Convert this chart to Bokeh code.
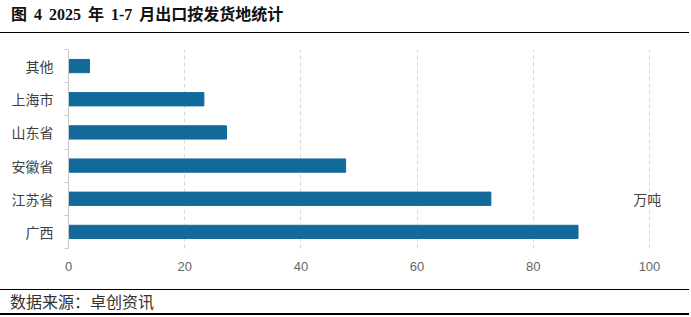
from bokeh.plotting import figure
from bokeh.models import ColumnDataSource, FixedTicker, Label, Div
from bokeh.layouts import column
from bokeh.embed import file_html
from bokeh.resources import INLINE

categories = ["广西", "江苏省", "安徽省", "山东省", "上海市", "其他"]
values = [87.7, 72.7, 47.7, 27.2, 23.3, 3.6]
x_ticks = [0, 20, 40, 60, 80, 100]
title_text = "图 4 2025 年 1-7 月出口按发货地统计"
unit_text = "万吨"
source_text = "数据来源：卓创资讯"

pos = list(range(len(categories)))
src = ColumnDataSource(dict(y=pos, v=values, cat=categories))

p = figure(width=691, height=256, x_range=(0, 104.65), y_range=(-0.5, len(categories) - 0.5),
           output_backend="svg", toolbar_location=None,
           min_border_left=68, min_border_right=15, min_border_top=16, min_border_bottom=41)
p.outline_line_color = None
p.background_fill_color = "white"
p.border_fill_color = "white"

p.hbar(y="y", right="v", left=0, height=0.4, source=src, color="#126a9a")

# x axis
p.xaxis.ticker = FixedTicker(ticks=x_ticks)
p.xaxis.axis_line_color = None
p.xaxis.major_tick_line_color = None
p.xaxis.minor_tick_line_color = None
p.xaxis.major_label_standoff = 7
p.xaxis.major_label_text_font = "Liberation Sans"
p.xaxis.major_label_text_font_size = "13px"
p.xaxis.major_label_text_color = "#666666"

# y axis
p.yaxis.ticker = FixedTicker(ticks=pos, minor_ticks=[i - 0.5 for i in range(len(categories) + 1)])
p.yaxis.major_label_overrides = {i: c for i, c in zip(pos, categories)}
p.yaxis.major_tick_line_color = None
p.yaxis.minor_tick_in = 0
p.yaxis.minor_tick_out = 4
p.yaxis.minor_tick_line_color = "#c8c8c8"
p.yaxis.axis_line_color = "#c8c8c8"
p.yaxis.major_label_standoff = 9
p.yaxis.major_label_text_font = "Noto Sans CJK SC"
p.yaxis.major_label_text_font_size = "14px"
p.yaxis.major_label_text_color = "#404040"

# grid
p.ygrid.grid_line_color = None
p.xgrid.ticker = FixedTicker(ticks=x_ticks)
p.xgrid.grid_line_color = "#d9d9d9"
p.xgrid.grid_line_dash = "4 3"

p.add_layout(Label(x=97.2, y=1, text=unit_text, text_baseline="middle",
                   text_font="Noto Sans CJK SC", text_font_size="14px", text_color="#404040"))

title_div = Div(
    text=('<div style="box-sizing:border-box;width:689px;height:33px;border-bottom:1px solid #000;'
          'padding-left:11px;line-height:29px;font-family:\'Liberation Serif\',\'Noto Sans CJK SC\';'
          'font-weight:bold;font-size:16px;word-spacing:3px;color:#111;white-space:nowrap;">'
          + title_text + '</div>'),
    width=691, height=33, margin=0)

foot_div = Div(
    text=('<div style="box-sizing:border-box;width:689px;height:26px;border-top:1px solid #000;'
          'border-bottom:2px solid #000;padding-left:10px;line-height:22px;'
          'font-family:\'Noto Sans CJK SC\';font-size:16px;color:#333;white-space:nowrap;">'
          + source_text + '</div>'),
    width=691, height=28, margin=0)

layout = column(title_div, p, foot_div, spacing=0)

open("out.html", "w").write(file_html(layout, INLINE))
